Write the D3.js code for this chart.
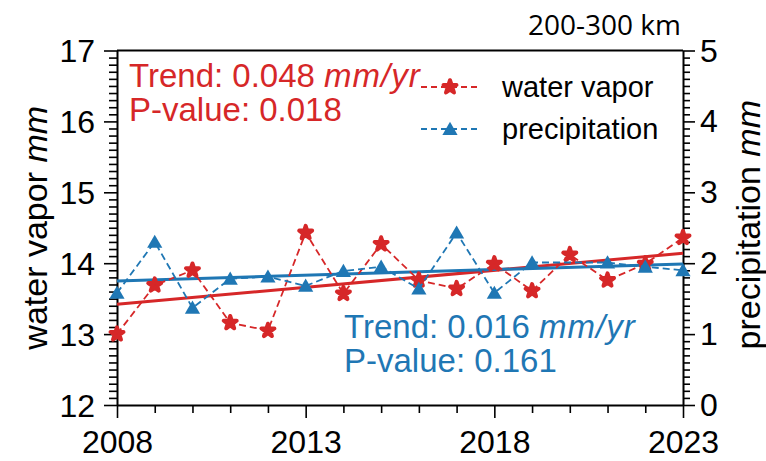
<!DOCTYPE html>
<html><head><meta charset="utf-8">
<script src="https://cdn.jsdelivr.net/npm/d3@7/dist/d3.min.js"></script>
<style>
html,body{margin:0;padding:0;background:#fff;}
svg{display:block;font-family:"Liberation Sans",Arial,sans-serif;}
</style></head>
<body>
<svg id="chart" width="766" height="461"></svg>
<script>
// ---- data ----
const years = [2008,2009,2010,2011,2012,2013,2014,2015,2016,2017,2018,2019,2020,2021,2022,2023];
const waterVapor = [13.00,13.69,13.90,13.16,13.05,14.43,13.57,14.27,13.76,13.64,13.99,13.61,14.12,13.76,13.99,14.36];
const precipitation = [1.58,2.30,1.37,1.78,1.81,1.68,1.89,1.95,1.64,2.43,1.58,2.01,null,2.01,1.95,1.90];
const trendYears = [2008,2023];
const waterVaporTrend = [13.42,14.14];
const precipitationTrend = [1.75,1.99];
const leftTicks = [12,13,14,15,16,17];
const rightTicks = [0,1,2,3,4,5];
const xTicks = [2008,2013,2018,2023];
const wvText = ["Trend: 0.048 ","mm/yr","P-value: 0.018"];
const prText = ["Trend: 0.016 ","mm/yr","P-value: 0.161"];
const legendLabels = ["water vapor","precipitation"];
const title = "200-300 km";

const RED = "#d62728", BLUE = "#1f77b4";
const L = 117, R = 683, T = 50.5, B = 405;
const svg = d3.select("#chart");

const x = d3.scaleLinear().domain([2008,2023]).range([L,R]);
const yL = d3.scaleLinear().domain([12,17]).range([B,T]);
const yR = d3.scaleLinear().domain([0,5]).range([B,T]);

const minorL = d3.range(120,171).map(d=>d/10).filter(d=>Math.abs(d-Math.round(d))>1e-6);
const minorR = d3.range(0,51).map(d=>d/10).filter(d=>Math.abs(d-Math.round(d))>1e-6);
const minorX = years.filter(y=>!xTicks.includes(y));

function styleAxis(g){
  g.selectAll("path.domain").attr("stroke","#000").attr("stroke-width",2);
  g.selectAll("line").attr("stroke","#000").attr("stroke-width",1.6);
}
svg.append("g").attr("transform",`translate(${L},0)`)
  .call(d3.axisLeft(yL).tickValues(minorL).tickSize(8).tickFormat(""))
  .call(g=>g.select(".domain").remove()).call(styleAxis);
svg.append("g").attr("transform",`translate(${R},0)`)
  .call(d3.axisRight(yR).tickValues(minorR).tickSize(7).tickFormat(""))
  .call(g=>g.select(".domain").remove()).call(styleAxis);
svg.append("g").attr("transform",`translate(0,${B})`)
  .call(d3.axisBottom(x).tickValues(minorX).tickSize(8).tickFormat(""))
  .call(g=>g.select(".domain").remove()).call(styleAxis);

const gl = svg.append("g").attr("transform",`translate(${L},0)`)
  .call(d3.axisLeft(yL).tickValues(leftTicks).tickSize(13).tickSizeOuter(0).tickPadding(9).tickFormat(d3.format("d")))
  .call(styleAxis);
const gr = svg.append("g").attr("transform",`translate(${R},0)`)
  .call(d3.axisRight(yR).tickValues(rightTicks).tickSize(12).tickSizeOuter(0).tickPadding(5).tickFormat(d3.format("d")))
  .call(styleAxis);
const gb = svg.append("g").attr("transform",`translate(0,${B})`)
  .call(d3.axisBottom(x).tickValues(xTicks).tickSize(13).tickSizeOuter(0).tickPadding(12).tickFormat(d3.format("d")))
  .call(styleAxis);
[gl,gr,gb].forEach(g=>g.selectAll("text").attr("font-size",32).attr("fill","#000").attr("font-family","Liberation Sans, Arial, sans-serif"));
gl.selectAll("text").attr("dy","0.35em");
gr.selectAll("text").attr("dy","0.33em");
svg.append("line").attr("x1",L).attr("x2",R).attr("y1",T).attr("y2",T).attr("stroke","#000").attr("stroke-width",2);

// trend lines
const lineWV = d3.line().x((d,i)=>x(trendYears[i])).y(d=>yL(d));
const linePR = d3.line().x((d,i)=>x(trendYears[i])).y(d=>yR(d));
svg.append("path").attr("d",lineWV(waterVaporTrend)).attr("stroke",RED).attr("stroke-width",3).attr("fill","none");
svg.append("path").attr("d",linePR(precipitationTrend)).attr("stroke",BLUE).attr("stroke-width",3).attr("fill","none");

// data series
const wvPts = years.map((y,i)=>({y, v:waterVapor[i]}));
const prPts = years.map((y,i)=>({y, v:precipitation[i]})).filter(d=>d.v!==null);
const star = d3.symbol().type(d3.symbolStar).size(52);
const tri = d3.symbol().type(d3.symbolTriangle).size(100);

svg.append("path").attr("d",d3.line().x(d=>x(d.y)).y(d=>yL(d.v))(wvPts))
  .attr("fill","none").attr("stroke",RED).attr("stroke-width",1.8).attr("stroke-dasharray","7,4");
svg.append("g").selectAll("path").data(wvPts).join("path")
  .attr("d",star).attr("transform",d=>`translate(${x(d.y)},${yL(d.v)})`)
  .attr("fill",RED).attr("stroke",RED).attr("stroke-width",4).attr("stroke-linejoin","round");

svg.append("path").attr("d",d3.line().x(d=>x(d.y)).y(d=>yR(d.v))(prPts))
  .attr("fill","none").attr("stroke",BLUE).attr("stroke-width",1.8).attr("stroke-dasharray","7,4");
svg.append("g").selectAll("path").data(prPts).join("path")
  .attr("d",tri).attr("transform",d=>`translate(${x(d.y)},${yR(d.v)+1.5})`)
  .attr("fill",BLUE);

// trend texts
function trendText(lines, color, x0, y0){
  const t = svg.append("text").attr("x",x0).attr("y",y0).attr("fill",color).attr("font-size",33);
  t.append("tspan").text(lines[0]);
  t.append("tspan").attr("font-style","italic").attr("letter-spacing",1).text(lines[1]);
  svg.append("text").attr("x",x0).attr("y",y0+34).attr("fill",color).attr("font-size",33).text(lines[2]);
}
trendText(wvText, RED, 129, 87);
trendText(prText, BLUE, 344, 338);

// legend
const lg = svg.append("g");
[[RED,star,legendLabels[0],87],[BLUE,tri,legendLabels[1],129]].forEach(([c,sym,lab,yy],i)=>{
  lg.append("line").attr("x1",421).attr("x2",479).attr("y1",yy).attr("y2",yy)
    .attr("stroke",c).attr("stroke-width",1.8).attr("stroke-dasharray","6,4");
  lg.append("path").attr("d",sym).attr("transform",`translate(450,${yy+(i?1.5:0)})`)
    .attr("fill",c).attr("stroke",i?"none":c).attr("stroke-width",4).attr("stroke-linejoin","round");
  lg.append("text").attr("x",502).attr("y",yy+10).attr("font-size",29).attr("fill","#000").text(lab);
});

// axis labels
const yl = svg.append("text").attr("transform",`translate(47,${(T+B)/2}) rotate(-90)`)
  .attr("text-anchor","middle").attr("font-size",34).attr("fill","#000");
yl.append("tspan").text("water vapor ");
yl.append("tspan").attr("font-style","italic").text("mm");
const yr = svg.append("text").attr("transform",`translate(760,${(T+B)/2 - 3}) rotate(-90)`)
  .attr("text-anchor","middle").attr("font-size",34).attr("fill","#000");
yr.append("tspan").text("precipitation ");
yr.append("tspan").attr("font-style","italic").text("mm");

// title
svg.append("text").attr("x",681).attr("y",35).attr("text-anchor","end")
  .attr("font-family","Open Sans, sans-serif").attr("font-size",28).attr("fill","#000").text(title);
</script>
</body></html>
